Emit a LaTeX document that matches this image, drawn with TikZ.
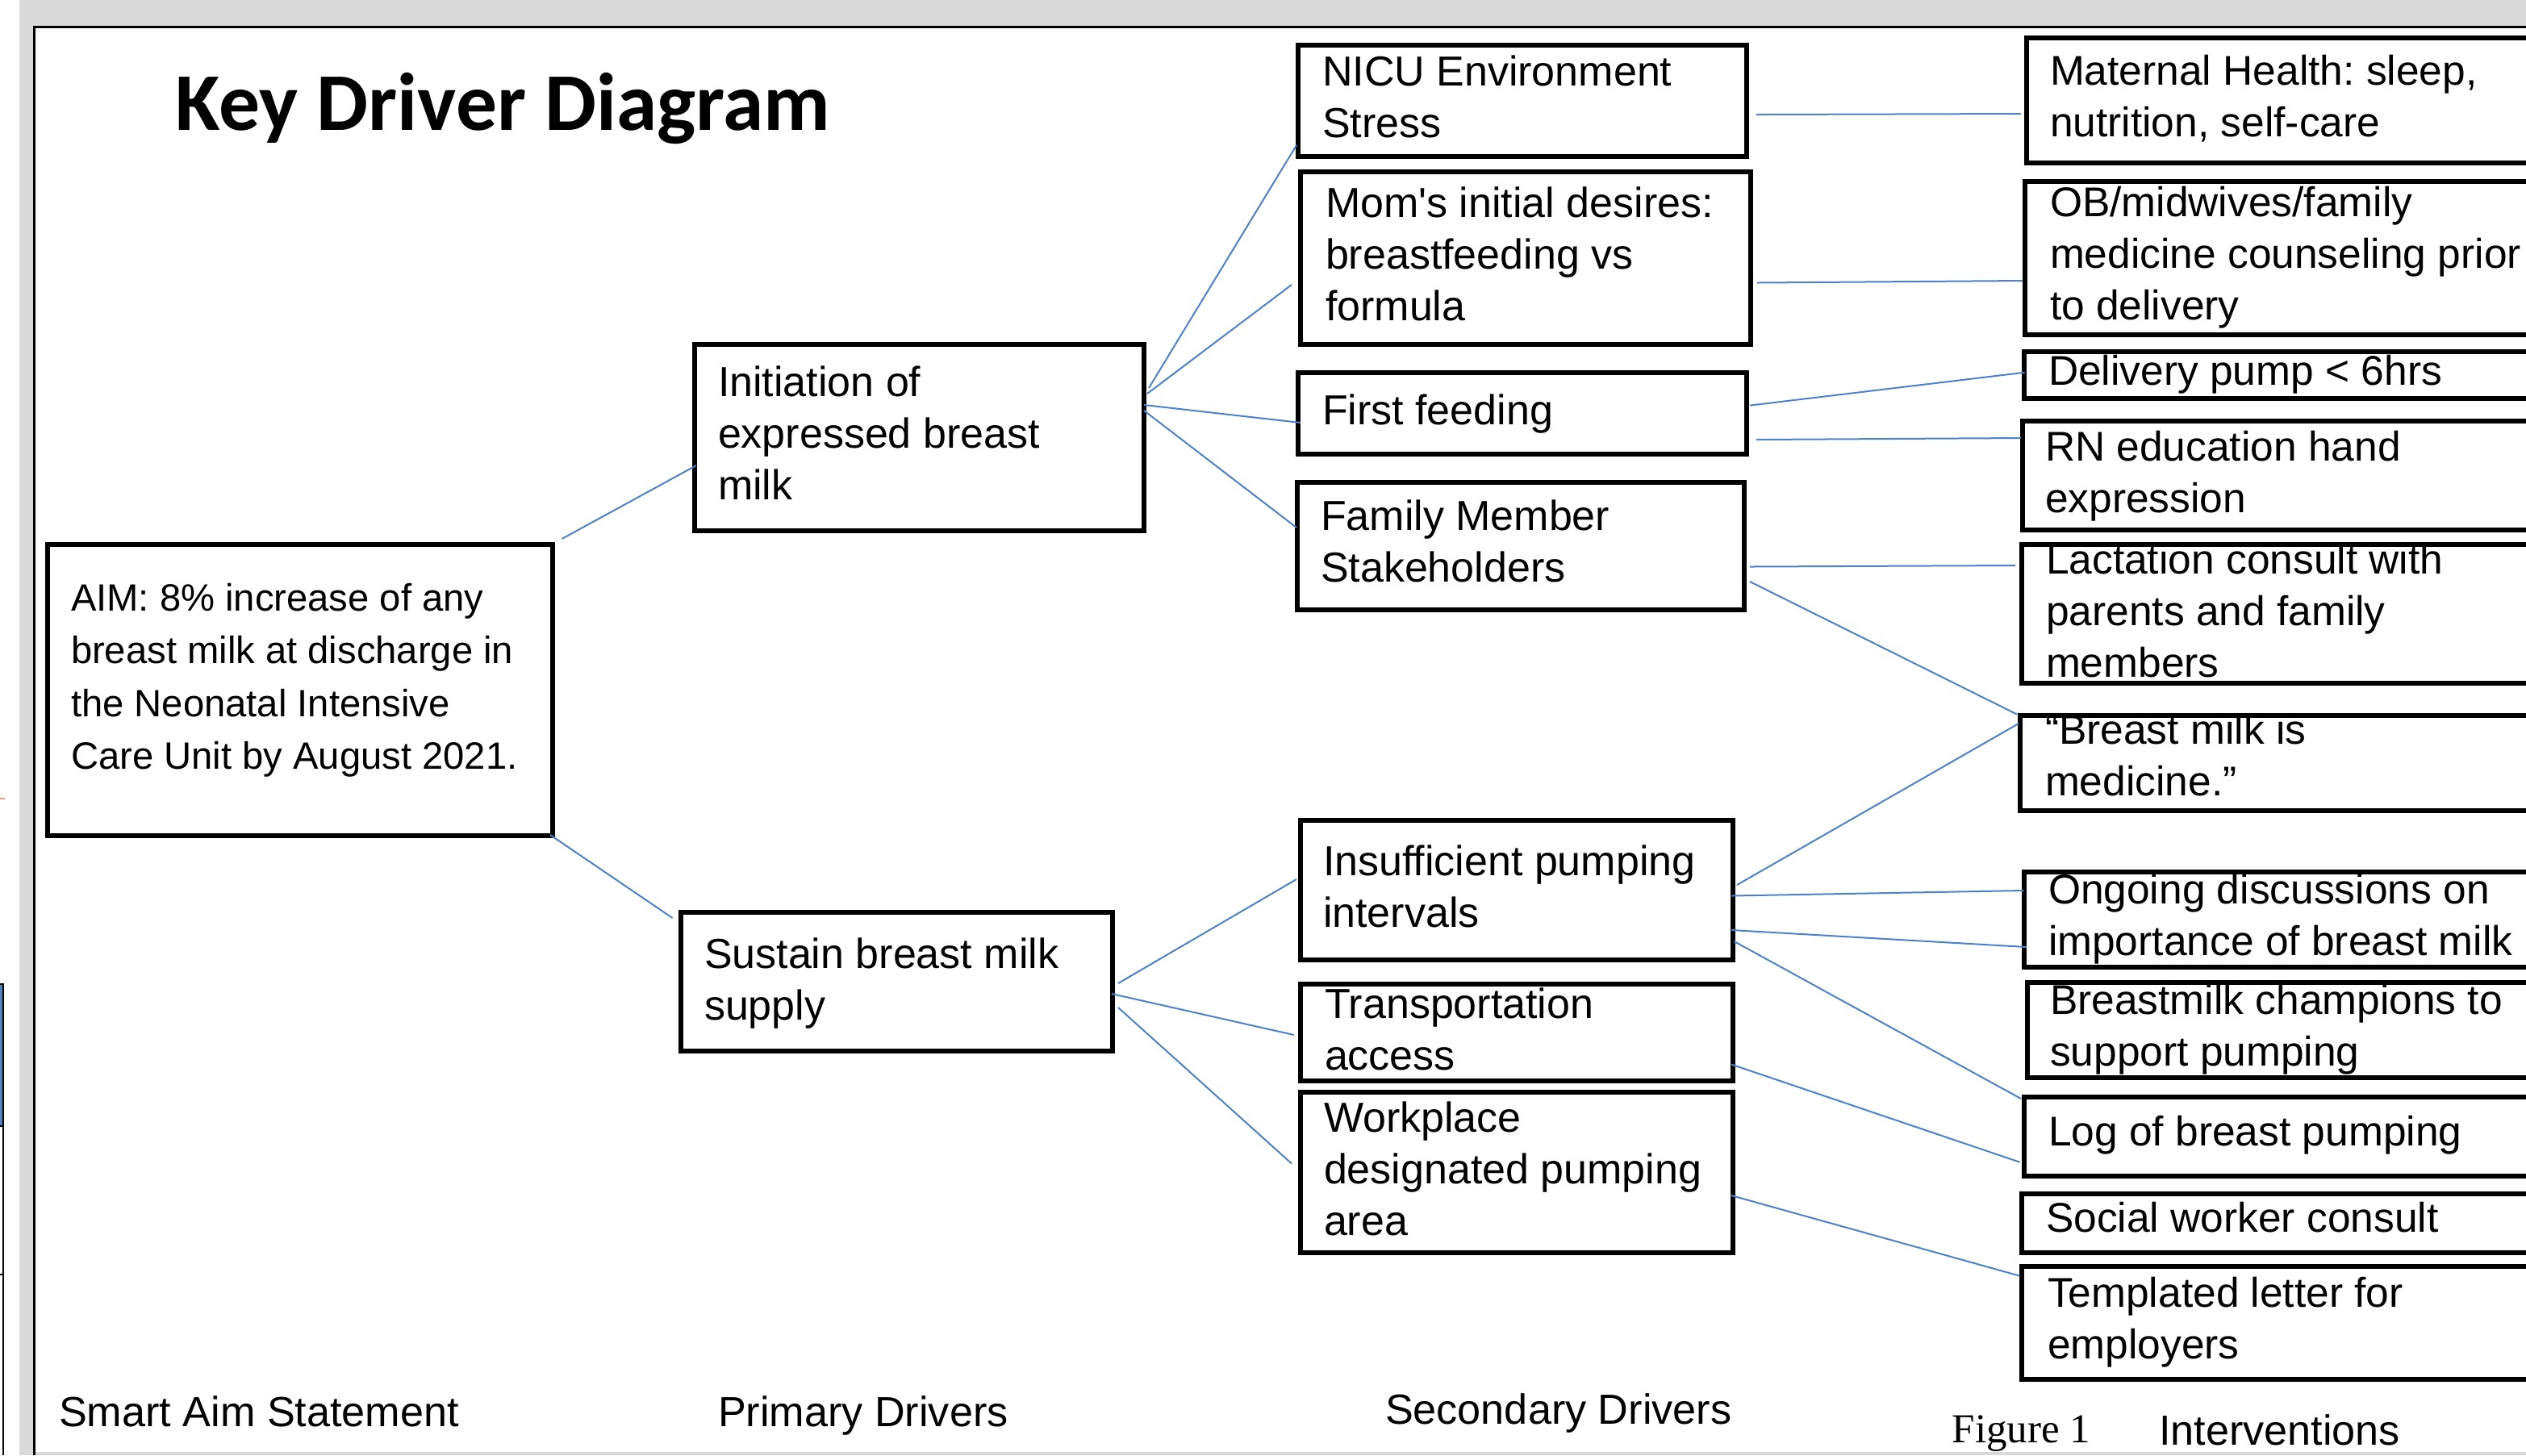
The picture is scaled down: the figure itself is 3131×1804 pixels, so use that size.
\documentclass[tikz,border=0pt]{standalone}
\usepackage{fontspec}
\setmainfont{Liberation Sans}
\newfontfamily\titlefont{Carlito}
\newfontfamily\serifont{Liberation Serif}
\usetikzlibrary{calc}
\frenchspacing
\definecolor{pagegray}{RGB}{217,217,217}
\definecolor{cblue}{RGB}{79,129,201}
\definecolor{artblue}{RGB}{79,129,189}
\definecolor{artorange}{RGB}{244,150,120}
\tikzset{
  kbox/.style={draw=black, line width=1.4pt, inner sep=0pt, outer sep=0pt, rectangle},
  txt/.style={anchor=base west, inner sep=0pt, outer sep=0pt},
  lbl/.style={anchor=base west, inner sep=0pt, outer sep=0pt, font=\fontsize{13.05}{16}\selectfont},
  conn/.style={draw=cblue, line width=0.5pt},
}
\newcommand\bx[5]{\node[kbox, minimum width={(#4-#2)*0.25pt}, minimum height={(#5-#3)*0.25pt}] (#1) at ({(#2+#4)/2},{(#3+#5)/2}) {};}
\newcommand\tx[4][13]{\node[txt, font=\frenchspacing\fontsize{#1}{16}\selectfont] (#2) at (#3) {\begin{tabular}[t]{@{}l@{}}#4\end{tabular}};}
\begin{document}
\begin{tikzpicture}[x=0.25pt, y=-0.25pt]
\useasboundingbox (0,0) rectangle (3131,1804);
\clip (0,0) rectangle (3131,1804);
% background
\fill[white] (0,0) rectangle (3131,1804);
\fill[pagegray] (24,0) rectangle (3131,33);
\fill[pagegray] (24,0) rectangle (41,1804);
\fill[pagegray] (41,1800) rectangle (3131,1804);
\draw[line width=0.75pt] (42,1804) -- (42,33.5) -- (3131,33.5);
% left-edge fragments
\draw[artorange, line width=0.4pt] (0,990) -- (6,990);
\fill[artblue] (0,1221) rectangle (3.5,1395);
\draw[black, line width=0.35pt] (0,1220) -- (4,1220) -- (4,1804);
\draw[black, line width=0.35pt] (0,1396) -- (4,1396);
\draw[black, line width=0.35pt] (0,1580) -- (4,1580);

% title
\node[anchor=base west, inner sep=0pt, font=\titlefont\bfseries\fontsize{25.4}{30}\selectfont] (title) at (217,161) {Key Driver Diagram};

% boxes
\bx{aim}{59}{675}{685}{1036}
\bx{init}{861}{427}{1418}{658}
\bx{sust}{844}{1131}{1379}{1303}
\bx{nicu}{1609}{56}{2165}{194}
\bx{mom}{1612}{213}{2170}{427}
\bx{first}{1609}{462}{2165}{563}
\bx{fam}{1608}{598}{2162}{756}
\bx{insuf}{1612}{1017}{2148}{1190}
\bx{trans}{1612}{1220}{2148}{1340}
\bx{work}{1612}{1354}{2148}{1553}
\bx{mat}{2512}{47}{3200}{202}
\bx{ob}{2510}{225}{3200}{415}
\bx{deliv}{2509}{436}{3200}{494}
\bx{rn}{2507}{522}{3200}{657}
\bx{lact}{2506}{675}{3200}{847}
\bx{bmed}{2504}{887}{3200}{1005}
\bx{ongo}{2509}{1081}{3200}{1199}
\bx{champ}{2513}{1218}{3200}{1336}
\bx{logb}{2509}{1360}{3200}{1458}
\bx{social}{2506}{1480}{3200}{1553}
\bx{templ}{2506}{1570}{3200}{1710}

% texts
\node[txt, font=\frenchspacing\fontsize{11.8}{16.4}\selectfont] (taim) at (88,757) {\begin{tabular}[t]{@{}l@{}}AIM: 8\% increase of any\\breast milk at discharge in\\the Neonatal Intensive\\Care Unit by August 2021.\end{tabular}};
\tx{tinit}{890,491.5}{Initiation of\\expressed breast\\milk}
\tx{tsust}{873,1200}{Sustain breast milk\\supply}
\tx{tnicu}{1639,106.5}{NICU Environment\\Stress}
\tx{tmom}{1643,269}{Mom\textquotesingle s initial desires:\\breastfeeding vs\\formula}
\tx{tfirst}{1639,526.5}{First feeding}
\tx{tfam}{1637,657.5}{Family Member\\Stakeholders}
\tx{tinsuf}{1640,1085}{Insufficient pumping\\intervals}
\tx{ttrans}{1642,1262}{Transportation\\access}
\tx{twork}{1641,1403}{Workplace\\designated pumping\\area}
\tx[12.875]{tmat}{2541,105}{Maternal Health: sleep,\\nutrition, self-care}
\tx[12.875]{tob}{2541,268}{OB/midwives/family\\medicine counseling prior\\to delivery}
\tx[12.875]{tdeliv}{2539,477.5}{Delivery pump < 6hrs}
\tx[12.875]{trn}{2535,571}{RN education hand\\expression}
\tx[12.875]{tlact}{2536,711}{Lactation consult with\\parents and family\\members}
\tx[12.875]{tbmed}{2535,922}{“Breast milk is\\medicine.”}
\tx[12.875]{tongo}{2539,1120}{Ongoing discussions on\\importance of breast milk}
\tx[12.875]{tchamp}{2541,1257}{Breastmilk champions to\\support pumping}
\tx[12.875]{tlog}{2539,1420}{Log of breast pumping}
\tx[12.875]{tsocial}{2536,1527}{Social worker consult}
\tx[12.875]{ttempl}{2538,1620}{Templated letter for\\employers}

% column labels
\node[lbl] (lsmart) at (73,1768) {Smart Aim Statement};
\node[lbl] (lprim) at (890,1768) {Primary Drivers};
\node[lbl] (lsec) at (1717,1765) {Secondary Drivers};
\node[anchor=base west, inner sep=0pt, font=\serifont\fontsize{12.75}{15}\selectfont] (lfig) at (2419,1788) {Figure 1};
\node[lbl] (linterv) at (2676,1791) {Interventions};

% connectors
\draw[conn] ($(aim.north east)+(11.5,-7)$) -- ($(init.north west)+(2,150)$);
\draw[conn] ($(aim.south east)+(-3,-1)$) -- ($(sust.north west)+(-10.5,7)$);
\draw[conn] ($(init.north east)+(6,54)$) -- ($(nicu.south west)+(-2,-14)$);
\draw[conn] ($(init.north east)+(4,61)$) -- ($(mom.north west)+(-11,140)$);
\draw[conn] ($(init.north east)+(0,75)$) -- ($(first.north west)+(3,62)$);
\draw[conn] ($(init.north east)+(0,82)$) -- ($(fam.north west)+(-1,56)$);
\draw[conn] ($(sust.north east)+(7,88)$) -- ($(insuf.north west)+(-5,73)$);
\draw[conn] ($(sust.north east)+(-1,101)$) -- ($(trans.north west)+(-8,63)$);
\draw[conn] ($(sust.north east)+(7,118)$) -- ($(work.north west)+(-11,88.5)$);
\draw[conn] ($(nicu.north east)+(12,86)$) -- ($(mat.north west)+(-7,94)$);
\draw[conn] ($(mom.north east)+(8,137.5)$) -- ($(ob.north west)+(-3,123)$);
\draw[conn] ($(first.north east)+(4,40.6)$) -- ($(deliv.north west)+(0.6,25.7)$);
\draw[conn] ($(first.north east)+(12,83)$) -- ($(rn.north west)+(-2,21)$);
\draw[conn] ($(fam.north east)+(7,104.5)$) -- ($(lact.north west)+(-8,26)$);
\draw[conn] ($(fam.north east)+(7,123)$) -- ($(bmed.north west)+(-4,-1.5)$);
\draw[conn] ($(insuf.north east)+(5,80)$) -- ($(bmed.north west)+(-2,10)$);
\draw[conn] ($(insuf.north east)+(-2,93.5)$) -- ($(ongo.north west)+(-0.5,23)$);
\draw[conn] ($(insuf.north east)+(-2,136)$) -- ($(ongo.north west)+(2.7,93)$);
\draw[conn] ($(insuf.north east)+(1.5,150)$) -- ($(logb.north west)+(-4,2)$);
\draw[conn] ($(trans.north east)+(-2,99.5)$) -- ($(logb.north west)+(-5.5,80.7)$);
\draw[conn] ($(work.north east)+(-2,128)$) -- ($(templ.north west)+(-2.5,11.7)$);
\end{tikzpicture}
\end{document}
